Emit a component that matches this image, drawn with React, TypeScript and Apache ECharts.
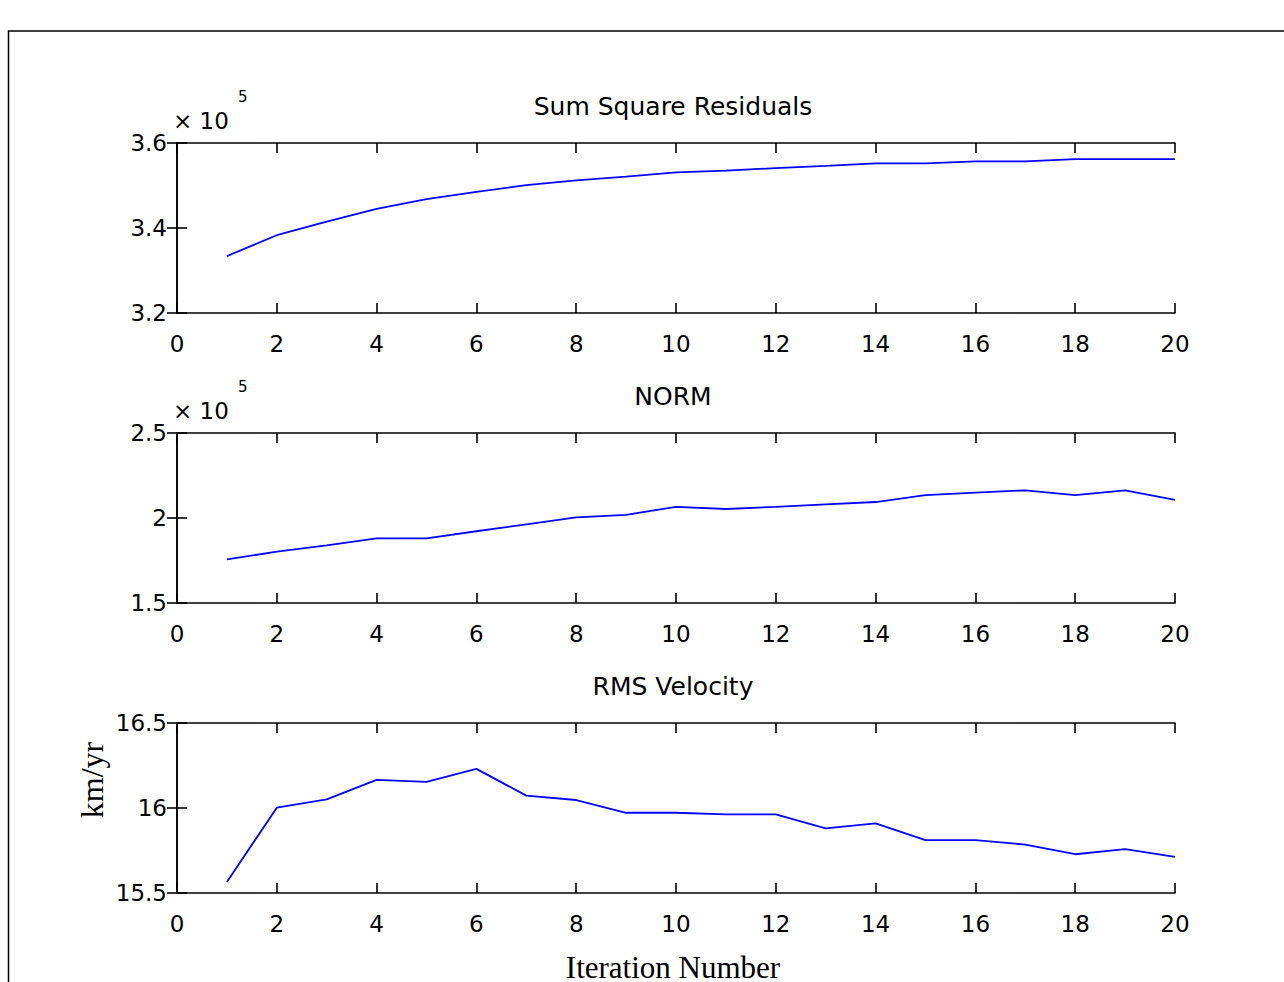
import React, { useEffect, useRef } from "react";
import * as echarts from "echarts";

// ---- data ----
const iterations = [1, 2, 3, 4, 5, 6, 7, 8, 9, 10, 11, 12, 13, 14, 15, 16, 17, 18, 19, 20];
const sumSquareResiduals = [
  333400, 338300, 341500, 344500, 346800, 348500, 350100, 351200, 352100, 353100,
  353500, 354100, 354600, 355200, 355200, 355700, 355700, 356200, 356200, 356200,
];
const normValues = [
  175600, 180200, 183900, 188000, 188000, 192200, 196300, 200400, 201800, 206600,
  205300, 206600, 208000, 209400, 213500, 214900, 216300, 213500, 216300, 210600,
];
const rmsVelocity = [
  15.565, 16.002, 16.051, 16.165, 16.154, 16.23, 16.073, 16.047, 15.972, 15.972,
  15.963, 15.963, 15.88, 15.909, 15.811, 15.811, 15.785, 15.728, 15.758, 15.713,
];
const panelTitles = ["Sum Square Residuals", "NORM", "RMS Velocity"];
const yMins = [320000, 150000, 15.5];
const yMaxs = [360000, 250000, 16.5];
const yIntervals = [20000, 50000, 0.5];
const xTickRange = [0, 20, 2];
const xLabel = "Iteration Number";
const yLabelBottom = "km/yr";

const gridTops = [143, 433, 723];
const GRID_LEFT = 177;
const GRID_W = 998;
const GRID_H = 170;
const TICK_FONT = "DejaVu Sans";

export default function App() {
  const ref = useRef<HTMLDivElement>(null);
  useEffect(() => {
    if (!ref.current) return;
    const chart = echarts.init(ref.current, null, { renderer: "svg" });
    const seriesData = [sumSquareResiduals, normValues, rmsVelocity];
    const formatters = [
      (v: number) => (v / 1e5).toFixed(1),
      (v: number) => String(Math.round(v / 1e4) / 10),
      (v: number) => String(Math.round(v * 10) / 10),
    ];
    const grids: any[] = [];
    const xAxes: any[] = [];
    const yAxes: any[] = [];
    const series: any[] = [];
    const axisLine = { show: true, lineStyle: { color: "#000", width: 1.6 } };
    const axisTick = { show: true, inside: true, length: 10, lineStyle: { color: "#000", width: 1.6 } };
    for (let i = 0; i < 3; i++) {
      grids.push({ left: GRID_LEFT, top: gridTops[i], width: GRID_W, height: GRID_H });
      const xBase = {
        type: "value",
        gridIndex: i,
        min: xTickRange[0],
        max: xTickRange[1],
        interval: xTickRange[2],
        axisLine,
        axisTick,
        splitLine: { show: false },
      };
      xAxes.push({
        ...xBase,
        position: "bottom",
        axisLabel: {
          show: true,
          color: "#000",
          fontFamily: TICK_FONT,
          fontSize: 23,
          margin: 19,
          showMinLabel: true,
          showMaxLabel: true,
        },
      });
      xAxes.push({ ...xBase, position: "top", axisLabel: { show: false } });
      const yBase = {
        type: "value",
        gridIndex: i,
        min: yMins[i],
        max: yMaxs[i],
        interval: yIntervals[i],
        axisLine,
        axisTick,
        splitLine: { show: false },
      };
      yAxes.push({
        ...yBase,
        position: "left",
        axisLabel: {
          show: true,
          color: "#000",
          fontFamily: TICK_FONT,
          fontSize: 23,
          margin: 10,
          formatter: formatters[i],
          showMinLabel: true,
          showMaxLabel: true,
        },
      });
      yAxes.push({ ...yBase, position: "right", axisLabel: { show: false } });
      series.push({
        type: "line",
        xAxisIndex: 2 * i,
        yAxisIndex: 2 * i,
        data: iterations.map((x, k) => [x, seriesData[i][k]]),
        symbol: "none",
        lineStyle: { color: "#0000ff", width: 1.8 },
        silent: true,
      });
    }

    const graphic: any[] = [
      {
        type: "rect",
        shape: { x: 8.5, y: 31, width: 1400, height: 1100 },
        style: { fill: "none", stroke: "#000", lineWidth: 1.5 },
        silent: true,
      },
    ];
    for (let i = 0; i < 3; i++) {
      graphic.push({
        type: "text",
        x: 673,
        y: gridTops[i] - 37,
        style: {
          text: panelTitles[i],
          font: `25px "${TICK_FONT}"`,
          fill: "#000",
          align: "center",
          verticalAlign: "middle",
        },
      });
      if (i < 2) {
        graphic.push({
          type: "text",
          x: 173,
          y: gridTops[i] - 22,
          style: {
            text: "× 10",
            font: `23px "${TICK_FONT}"`,
            fill: "#000",
            align: "left",
            verticalAlign: "middle",
          },
        });
        graphic.push({
          type: "text",
          x: 238,
          y: gridTops[i] - 46,
          style: {
            text: "5",
            font: `15px "${TICK_FONT}"`,
            fill: "#000",
            align: "left",
            verticalAlign: "middle",
          },
        });
      }
    }
    graphic.push({
      type: "text",
      x: 673,
      y: 967,
      style: {
        text: xLabel,
        font: `31px "Liberation Serif"`,
        fill: "#000",
        align: "center",
        verticalAlign: "middle",
      },
    });
    graphic.push({
      type: "text",
      x: 92,
      y: 780,
      rotation: Math.PI / 2,
      style: {
        text: yLabelBottom,
        font: `32px "Liberation Serif"`,
        fill: "#000",
        align: "center",
        verticalAlign: "middle",
      },
    });

    chart.setOption({
      animation: false,
      backgroundColor: "#fff",
      grid: grids,
      xAxis: xAxes,
      yAxis: yAxes,
      series,
      graphic,
    });
    return () => chart.dispose();
  }, []);
  return (
    <div
      ref={ref}
      style={{ position: "fixed", left: 0, top: 0, width: 1284, height: 982 }}
    />
  );
}
